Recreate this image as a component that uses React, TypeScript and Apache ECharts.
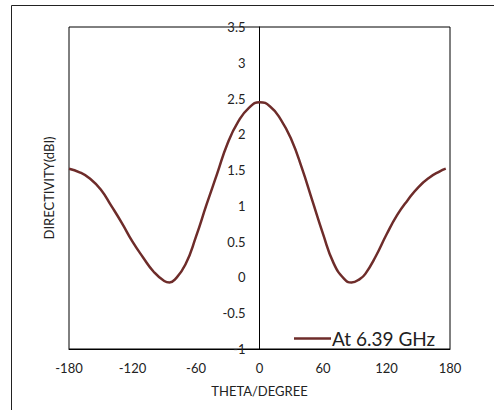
import React, { useEffect, useRef } from "react";
import * as echarts from "echarts";

const thetaDeg: number[] = [
  -180, -170, -160, -150, -140, -130, -120, -110, -100, -90, -85, -80, -70, -60, -50, -40, -30, -20, -10, 0,
  10, 20, 30, 40, 50, 60, 70, 80, 87, 95, 100, 110, 120, 130, 140, 150, 160, 170, 176,
];
const directivity: number[] = [
  1.52, 1.47, 1.38, 1.23, 1.0, 0.76, 0.5, 0.28, 0.08, -0.05, -0.07, -0.03, 0.18, 0.57, 1.02, 1.45, 1.88, 2.18, 2.37, 2.45,
  2.39, 2.21, 1.93, 1.53, 1.07, 0.61, 0.2, -0.02, -0.07, -0.02, 0.05, 0.3, 0.6, 0.87, 1.08, 1.26, 1.39, 1.48, 1.52,
];
const seriesName = "At 6.39 GHz";
const xTitle = "THETA/DEGREE";
const yTitle = "DIRECTIVITY(dBI)";

const FONT = "Lato, 'Open Sans', sans-serif";

export default function App() {
  const ref = useRef<HTMLDivElement>(null);
  useEffect(() => {
    if (!ref.current) return;
    const chart = echarts.init(ref.current, undefined, { renderer: "svg" });
    const data = thetaDeg.map((t, i) => [t, directivity[i]]);
    chart.setOption({
      animation: false,
      backgroundColor: "#fff",
      textStyle: { fontFamily: FONT },
      graphic: [
        {
          type: "rect",
          shape: { x: 11.5, y: 5.5, width: 500, height: 430 },
          style: { fill: "none", stroke: "#222", lineWidth: 1 },
          silent: true,
        },
        {
          type: "text",
          x: 49,
          y: 188,
          rotation: Math.PI / 2,
          style: {
            text: yTitle,
            fontFamily: FONT,
            fontSize: 13,
            fill: "#222",
            align: "center",
            verticalAlign: "middle",
          },
          silent: true,
        },
      ],
      grid: {
        left: 69,
        right: 44,
        top: 27,
        bottom: 61,
        containLabel: false,
        outerBoundsMode: "none",
        show: true,
        borderColor: "#000",
        borderWidth: 1,
        backgroundColor: "transparent",
      },
      legend: {
        left: 289,
        top: 324,
        icon: "rect",
        itemWidth: 37,
        itemHeight: 2.5,
        itemGap: 0,
        textStyle: { fontFamily: FONT, fontSize: 19, color: "#222", padding: [0, 0, 0, -4] },
        data: [seriesName],
      },
      xAxis: {
        type: "value",
        min: -180,
        max: 180,
        interval: 60,
        name: xTitle,
        nameLocation: "middle",
        nameGap: 35,
        nameTextStyle: { fontFamily: FONT, fontSize: 13, color: "#222" },
        axisLine: { onZero: false, lineStyle: { color: "#000", width: 1 } },
        axisTick: { show: false },
        splitLine: { show: false },
        axisLabel: { margin: 12, fontFamily: FONT, fontSize: 13, color: "#222" },
      },
      yAxis: {
        type: "value",
        min: -1,
        max: 3.5,
        interval: 0.5,
        offset: -190.5,
        axisLine: { show: true, onZero: false, lineStyle: { color: "#000", width: 1 } },
        axisTick: { show: false },
        splitLine: { show: false },
        axisLabel: { margin: 14, fontFamily: FONT, fontSize: 13, color: "#222" },
      },
      series: [
        {
          name: seriesName,
          type: "line",
          data,
          smooth: true,
          symbol: "none",
          lineStyle: { color: "#6e2c2a", width: 2.5 },
          itemStyle: { color: "#6e2c2a" },
        },
      ],
    });
    return () => chart.dispose();
  }, []);
  return <div ref={ref} style={{ position: "fixed", left: 0, top: 0, width: 494, height: 410 }} />;
}
